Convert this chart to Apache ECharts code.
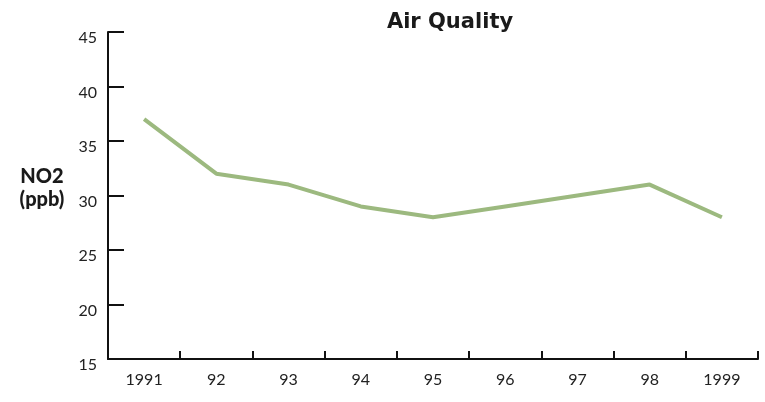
<!DOCTYPE html>
<html>
<head>
<meta charset="utf-8">
<script src="https://cdn.jsdelivr.net/npm/echarts@6/dist/echarts.min.js"></script>
<style>
  html, body { margin: 0; padding: 0; background: #fff; }
  #chart { width: 765px; height: 402px; }
</style>
</head>
<body>
<div id="chart"></div>
<script>
// Annual NO2 concentration, 1991–1999
const years = ['1991', '92', '93', '94', '95', '96', '97', '98', '1999'];
const no2 = [37, 32, 31, 29, 28, 29, 30, 31, 28];
const yTicks = { min: 15, max: 45, step: 5 };

const chart = echarts.init(document.getElementById('chart'));
const font = 'Lato, "Open Sans", sans-serif';
const titleFont = '"DejaVu Sans", sans-serif';

chart.setOption({
  animation: false,
  title: [
    {
      text: 'Air Quality',
      left: 445, top: 7, textAlign: 'center',
      textStyle: { fontFamily: titleFont, fontWeight: 'bold', fontSize: 21, color: '#1a1a1a' }
    },
    {
      text: 'NO2\n(ppb)',
      left: 37, top: 160, textAlign: 'center',
      textStyle: { fontFamily: font, fontWeight: 900, fontSize: 20, lineHeight: 23, color: '#1a1a1a' }
    }
  ],
  grid: { left: 108, right: 7, top: 32, bottom: 43, containLabel: false },
  xAxis: {
    type: 'category',
    data: years,
    boundaryGap: true,
    axisLine: { show: true, lineStyle: { color: '#111', width: 2 } },
    axisTick: { show: true, inside: true, length: 8, interval: 0, lineStyle: { color: '#111', width: 2 } },
    axisLabel: { fontFamily: font, fontSize: 16, color: '#222', margin: 13, interval: 0 }
  },
  yAxis: {
    type: 'value',
    min: yTicks.min, max: yTicks.max, interval: yTicks.step,
    splitLine: { show: false },
    axisLine: { show: true, lineStyle: { color: '#111', width: 2 } },
    axisTick: { show: true, inside: true, length: 16, lineStyle: { color: '#111', width: 2 } },
    axisLabel: { fontFamily: font, fontSize: 16, color: '#222', margin: 11, verticalAlign: 'top', lineHeight: 12 }
  },
  series: [{
    type: 'line',
    data: no2,
    symbol: 'none',
    lineStyle: { color: '#9cb97f', width: 4 }
  }]
});
</script>
</body>
</html>
